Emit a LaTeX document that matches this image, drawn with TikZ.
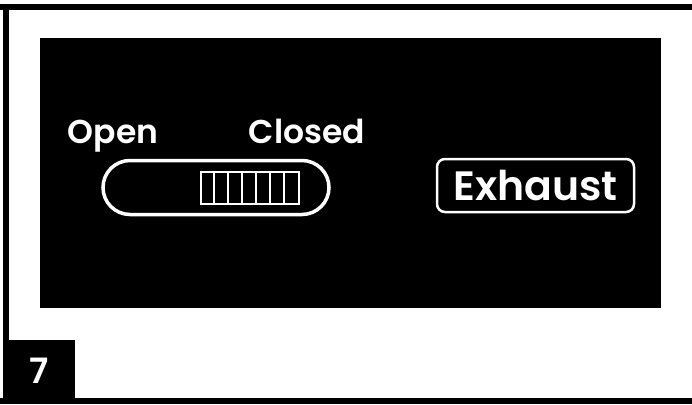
\documentclass[tikz,border=0pt]{standalone}
\usepackage{fontspec}
\newfontfamily\gothic{Poppins SemiBold}
\usetikzlibrary{positioning}

\begin{document}
\begin{tikzpicture}[x=1pt, y=-1pt,
  txt/.style={text=white, font=\fontsize{33}{36}\selectfont\gothic, inner sep=0pt},
  knob/.style={draw=white, line width=3.5pt, inner sep=0pt}
]
\useasboundingbox (0,0) rectangle (692,404);
% outer frame, open on the right
\draw[line width=6pt] (0,7) -- (692,7);
\draw[line width=6pt] (6,4) -- (6,404);
\draw[line width=6pt] (0,401) -- (692,401);
% panel
\fill[black] (40,38) rectangle (661,308);
\node[fill=black, minimum width=72pt, minimum height=62pt, inner sep=0pt] (tag) at (39,371) {};
\node[txt, font=\fontsize{35}{36}\selectfont\gothic] (seven) at (tag) {7};
% damper switch
\node[txt, anchor=base] (open) at (113,143) {Open};
\node[txt, anchor=base] (closed) at (307,143) {Closed};
\node[knob, rounded corners=27pt, minimum width=226pt, minimum height=54pt] (toggle) at (216,187.5) {};
\node[knob, line width=2.5pt, minimum width=98pt, minimum height=32pt] (slider) at (250,188) {};
\foreach \k in {1,...,6}
  \draw[white, line width=2pt] ([xshift=\k*14pt]slider.north west) -- ([xshift=\k*14pt]slider.south west);
% exhaust fan
\node[knob, line width=2.5pt, rounded corners=8pt, minimum width=197pt, minimum height=53pt,
      text=white, font=\fontsize{41}{44}\selectfont\gothic] (exhaust) at (535.5,185.5) {Exhaust};
\end{tikzpicture}
\end{document}
